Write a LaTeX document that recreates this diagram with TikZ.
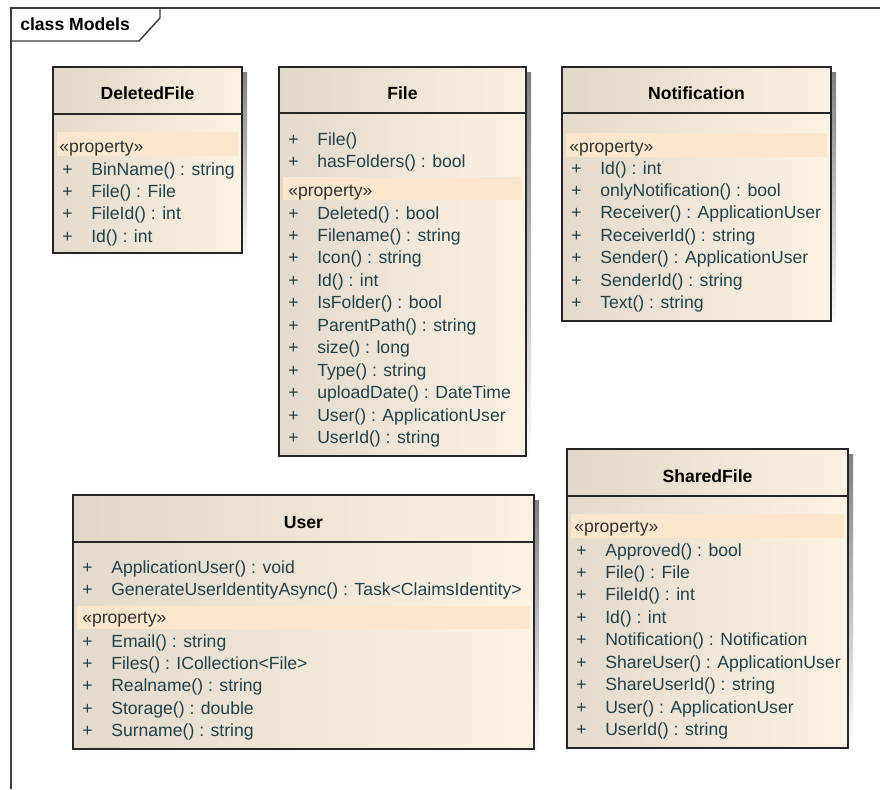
\documentclass[tikz,border=0pt]{standalone}
\usepackage{fontspec}
\setmainfont{Liberation Sans}
\usetikzlibrary{positioning}

\definecolor{edge}{HTML}{262626}
\definecolor{hdrL}{HTML}{E1D7C7}
\definecolor{hdrR}{HTML}{FBF0E1}
\definecolor{bodyL}{HTML}{E4DACB}
\definecolor{bodyR}{HTML}{FCF2E4}
\definecolor{band}{HTML}{FAE6CD}
\definecolor{txt}{HTML}{21414C}
\definecolor{shade}{HTML}{BFBFBF}

% box of one class: x1, y1, x2, y2, y of the header line
\newcommand{\classbox}[5]{%
  \fill[shade] ({#1+5},{#2+5}) rectangle ({#3+5},{#4+5});
  \shade[left color=hdrL, right color=hdrR] (#1,#2) rectangle (#3,#5);
  \shade[left color=bodyL, right color=bodyR] (#1,#5) rectangle (#3,#4);
}
% members of a class: prefix, x1, first baseline, list
\newcommand{\members}[4]{%
  \foreach \m [count=\i from 0] in {#4} {
    \node[plus]   (#1p\i) at ({#2+9},{#3+22.45*\i}) {+};
    \node[member] (#1m\i) at ({#2+38},{#3+22.45*\i}) {\m};
  }%
}

\begin{document}
\begin{tikzpicture}[
    x=0.75pt, y=-0.75pt,
    every node/.style={font=\fontsize{13.2}{16}\selectfont, inner sep=0pt},
    title/.style={anchor=base, font=\fontsize{13.2}{16}\selectfont\bfseries},
    member/.style={anchor=base west, text=txt},
    plus/.style={anchor=base west, text=txt},
    stereo/.style={anchor=base west, text=black!80},
    border/.style={draw=edge, line width=1.4pt},
]
\useasboundingbox (0,0) rectangle (880,789);

% diagram frame
\draw[edge!90, line width=1.1pt] (11,789) -- (11,8) -- (880,8);
\draw[edge!90, line width=1.1pt] (11,41) -- (139,41) -- (160,18) -- (160,8);
\node[anchor=base west, font=\fontsize{13.2}{16}\selectfont\bfseries] (frame) at (20,30) {class Models};

% DeletedFile
\classbox{53}{67}{242}{253}{114}
\fill[band] (57,132) rectangle (238,156);
\draw[border] (53,67) rectangle (242,253) (53,114) -- (242,114);
\node[title] (delT) at (147.5,99) {DeletedFile};
\node[stereo] (delS) at (59,152) {«property»};
\members{del}{53}{175}{BinName() : string, File() : File, FileId() : int, Id() : int}

% File
\classbox{279}{67}{526}{456}{113}
\fill[band] (283,177) rectangle (522,200);
\draw[border] (279,67) rectangle (526,456) (279,113) -- (526,113);
\node[title] (fileT) at (402.5,99) {File};
\members{fileop}{279}{145}{File(), hasFolders() : bool}
\node[stereo] (fileS) at (288,196) {«property»};
\members{file}{279}{219}{Deleted() : bool, Filename() : string, Icon() : string,
  Id() : int, IsFolder() : bool, ParentPath() : string, size() : long,
  Type() : string, uploadDate() : DateTime, User() : ApplicationUser,
  UserId() : string}

% Notification
\classbox{562}{67}{831}{321}{113}
\fill[band] (566,133) rectangle (827,157);
\draw[border] (562,67) rectangle (831,321) (562,113) -- (831,113);
\node[title] (notT) at (696.5,99) {Notification};
\node[stereo] (notS) at (569,152) {«property»};
\members{not}{562}{174}{Id() : int, onlyNotification() : bool,
  Receiver() : ApplicationUser, ReceiverId() : string,
  Sender() : ApplicationUser, SenderId() : string, Text() : string}

% User
\classbox{73}{495}{534}{749}{542}
\fill[band] (77,606) rectangle (530,629);
\draw[border] (73,495) rectangle (534,749) (73,542) -- (534,542);
\node[title] (usrT) at (303.5,528) {User};
\members{usrop}{73}{573}{ApplicationUser() : void,
  GenerateUserIdentityAsync() : Task<ClaimsIdentity>}
\node[stereo] (usrS) at (82,623) {«property»};
\members{usr}{73}{647}{Email() : string, Files() : ICollection<File>,
  Realname() : string, Storage() : double, Surname() : string}

% SharedFile
\classbox{567}{449}{848}{748}{496}
\fill[band] (571,514) rectangle (844,538);
\draw[border] (567,449) rectangle (848,748) (567,496) -- (848,496);
\node[title] (shrT) at (707.5,482) {SharedFile};
\node[stereo] (shrS) at (574,532) {«property»};
\members{shr}{567}{556}{Approved() : bool, File() : File, FileId() : int,
  Id() : int, Notification() : Notification, ShareUser() : ApplicationUser,
  ShareUserId() : string, User() : ApplicationUser, UserId() : string}
\end{tikzpicture}
\end{document}
